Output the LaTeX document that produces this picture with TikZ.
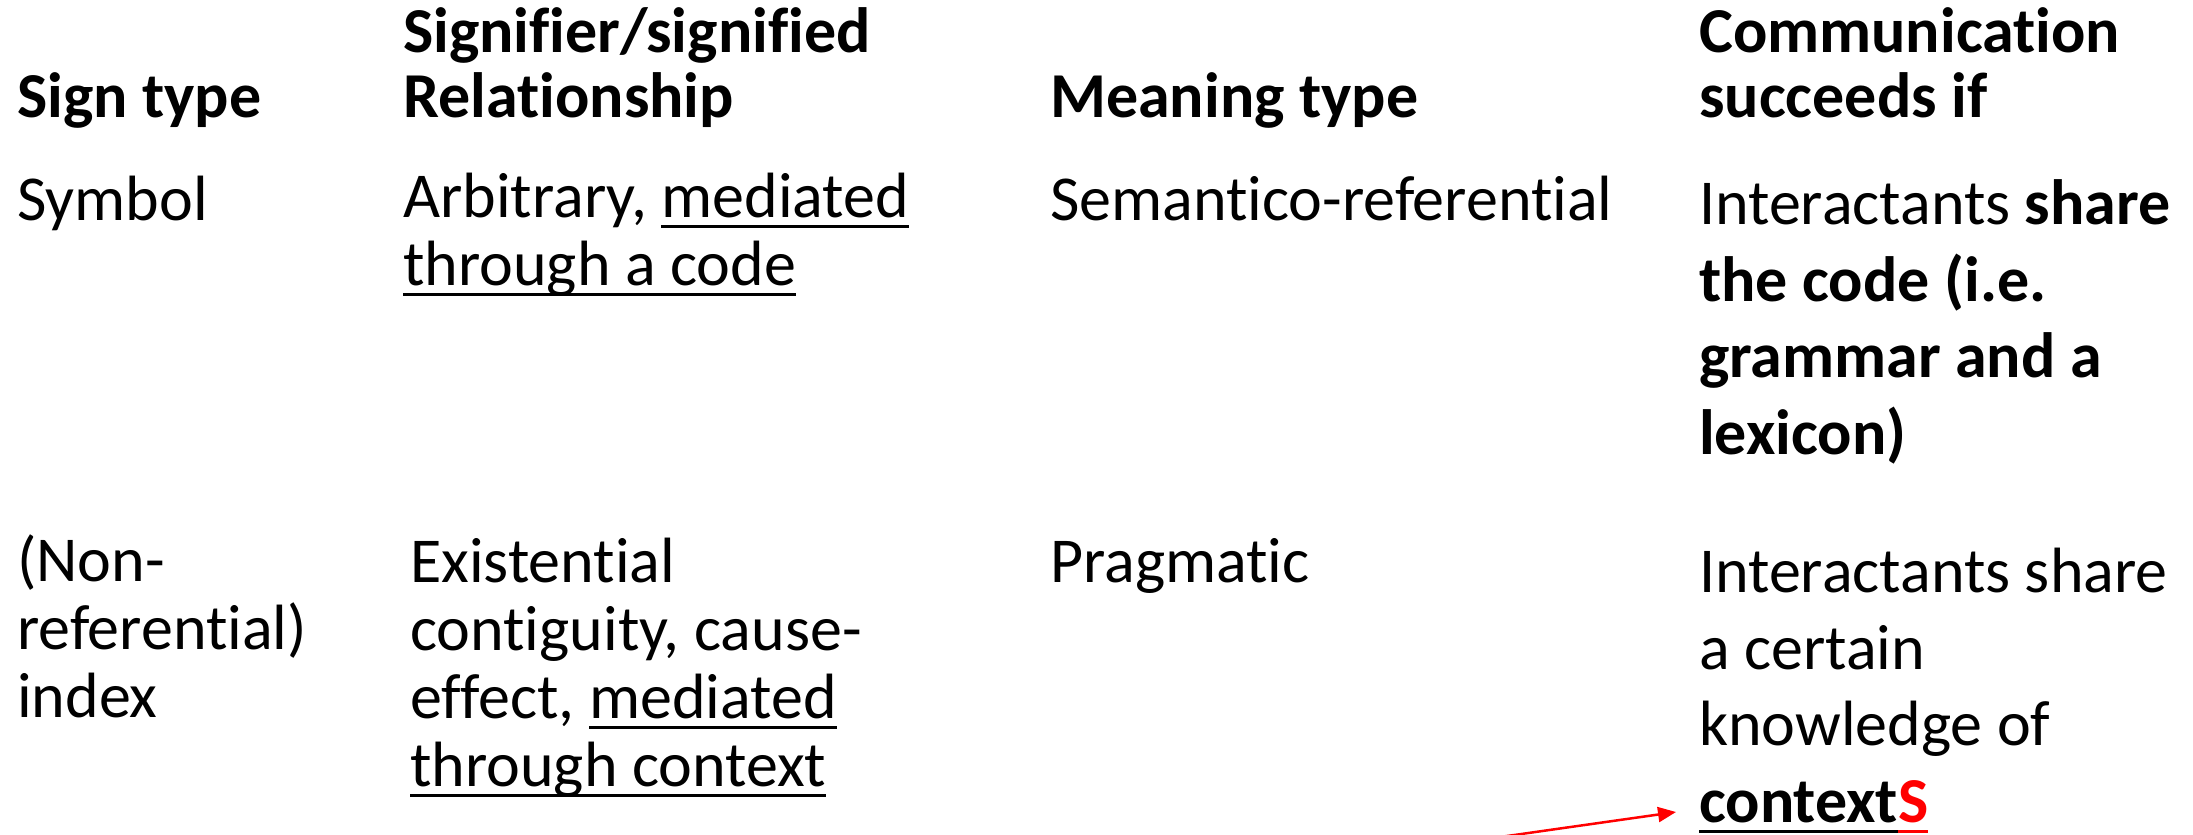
\documentclass[tikz,border=0pt]{standalone}
\usepackage{fontspec}
\setmainfont{Carlito}[Ligatures=NoCommon]
\usetikzlibrary{arrows.meta}
% underline drawn at a fixed depth below the baseline, in the current colour
\newcommand\ulword[1]{\setbox0\hbox{#1}\rlap{\rule[-11pt]{\wd0}{3.5pt}}\box0}
\tikzset{
  cell/.style={anchor=base west, inner sep=0pt, align=left,
    font=\fontsize{64}{68}\selectfont},
  headcell/.style={cell, font=\fontsize{64}{65}\selectfont\bfseries},
  widecell/.style={cell, font=\fontsize{64}{76.5}\selectfont},
  pointer/.style={red, line width=2.5pt, -{Triangle[length=18pt,width=15pt]}}
}
\begin{document}
\begin{tikzpicture}[x=1pt,y=-1pt]
\useasboundingbox (0,0) rectangle (2193,835);
% column headings (multi-line cells are placed by their last baseline)
\node[headcell] (h1) at (17,117) {Sign type};
\node[headcell] (h2) at (403,117) {Signifier/signified\\Relationship};
\node[headcell] (h3) at (1050,117) {Meaning type};
\node[headcell] (h4) at (1699,117) {Communication\\succeeds if};
% symbol row
\node[cell] (s1) at (17,220) {Symbol};
\node[cell] (s2) at (403,285) {Arbitrary, \ulword{mediated}\\\ulword{through a code}};
\node[cell] (s3) at (1050,220) {Semantico-referential};
\node[widecell] (s4) at (1699,454) {Interactants \textbf{share}\\\textbf{the code (i.e.}\\\textbf{grammar and a}\\\textbf{lexicon)}};
% index row
\node[cell] (i1) at (17,717) {(Non-\\referential)\\index};
\node[cell] (i2) at (410,786) {Existential\\contiguity, cause-\\effect, \ulword{mediated}\\\ulword{through context}};
\node[cell] (i3) at (1050,582) {Pragmatic};
\node[widecell] (i4) at (1699,822) {Interactants share\\a certain\\knowledge of\\\textbf{\ulword{context}\textcolor{red}{\ulword{S}}}};
% red pointer towards the last word
\coordinate (ptail) at (1458,843);
\coordinate (phead) at (1676,812);
\draw[pointer] (ptail) -- (phead);
\end{tikzpicture}
\end{document}
